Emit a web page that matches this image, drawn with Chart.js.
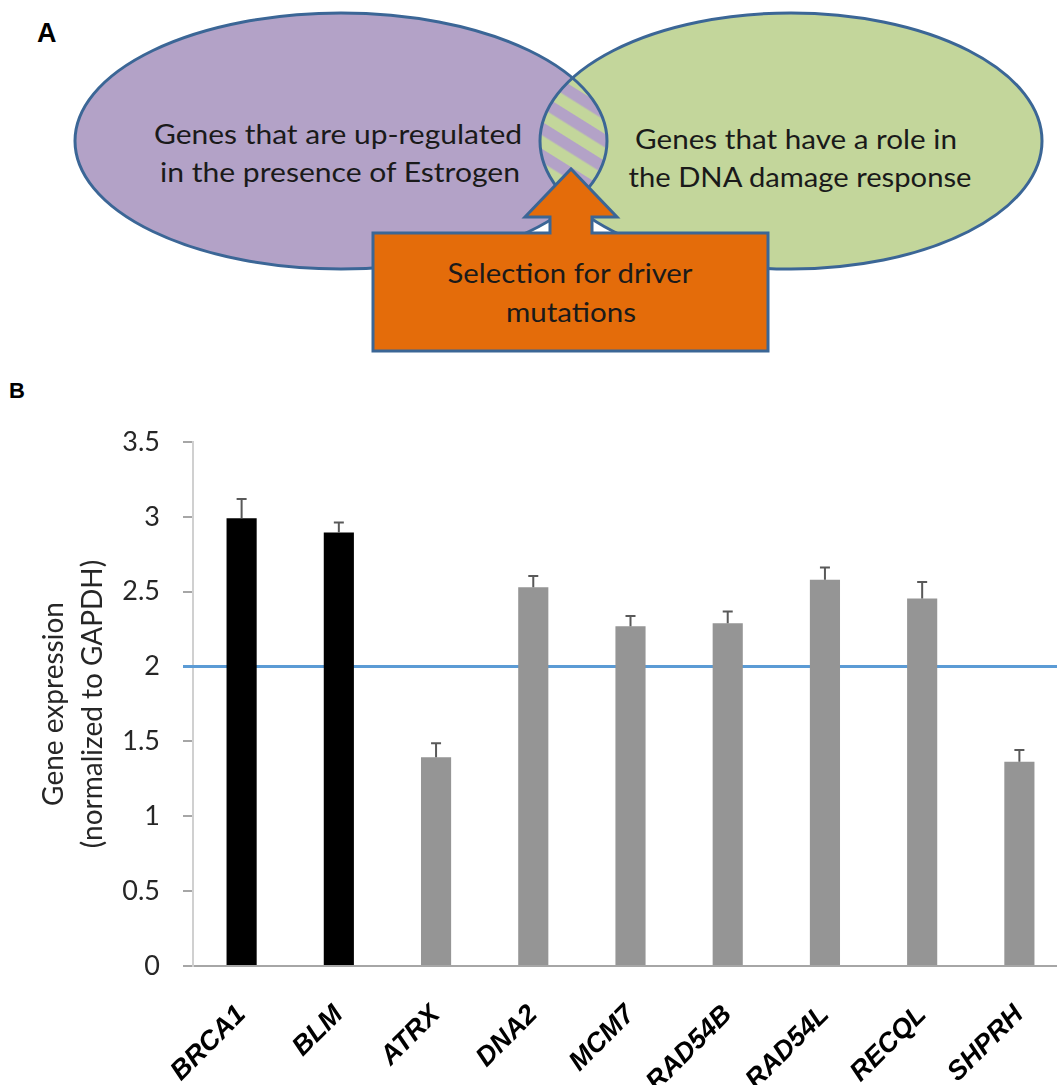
<!DOCTYPE html>
<html>
<head>
<meta charset="utf-8">
<title>Estrogen up-regulated DNA damage response genes</title>
<script src="https://cdn.jsdelivr.net/npm/chart.js@4.4.1/dist/chart.umd.min.js"></script>
<style>
  html, body { margin: 0; padding: 0; background: #fff; overflow: hidden; width: 1057px; height: 1085px; }
  #venn { position: absolute; left: 0; top: 0; }
  #chartBox { position: absolute; left: 0; top: 360px; width: 1076px; height: 725px; }
</style>
</head>
<body>
<svg id="venn" width="1057" height="400" xmlns="http://www.w3.org/2000/svg">
  <defs>
    <pattern id="stripes" patternUnits="userSpaceOnUse" width="23" height="23" patternTransform="rotate(32)">
      <rect width="23" height="23" fill="#c3d69b"/>
      <rect width="23" height="11.5" fill="#b3a2c7"/>
    </pattern>
    <clipPath id="leftClip"><ellipse cx="341" cy="141" rx="266" ry="128"/></clipPath>
  </defs>
  <text x="37" y="42" font-family="Liberation Sans, Arial, sans-serif" font-weight="bold" font-size="27" fill="#000">A</text>

  <ellipse cx="341" cy="141" rx="266" ry="128" fill="#b3a2c7"/>
  <ellipse cx="791" cy="141" rx="251" ry="128" fill="#c3d69b"/>
  <ellipse cx="791" cy="141" rx="251" ry="128" fill="url(#stripes)" clip-path="url(#leftClip)"/>
  <ellipse cx="341" cy="141" rx="266" ry="128" fill="none" stroke="#3b6696" stroke-width="3"/>
  <ellipse cx="791" cy="141" rx="251" ry="128" fill="none" stroke="#3b6696" stroke-width="3"/>

  <g font-family="Lato, sans-serif" font-size="27" fill="#1a1a1a" text-anchor="middle">
    <text x="338" y="144" textLength="368" lengthAdjust="spacingAndGlyphs">Genes that are up-regulated</text>
    <text x="340" y="182" textLength="360" lengthAdjust="spacingAndGlyphs">in the presence of Estrogen</text>
    <text x="796" y="149" textLength="322" lengthAdjust="spacingAndGlyphs">Genes that have a role in</text>
    <text x="800" y="187" textLength="343" lengthAdjust="spacingAndGlyphs">the DNA damage response</text>
  </g>

  <path d="M373,233 L550,233 L550,217 L525,217 L571,169 L617,217 L592,217 L592,233 L768,233 L768,351 L373,351 Z"
        fill="#e46c0a" stroke="#3b6696" stroke-width="3" stroke-linejoin="miter"/>
  <g font-family="Lato, sans-serif" font-size="27" fill="#1a1a1a" text-anchor="middle">
    <text x="570" y="283" textLength="245" lengthAdjust="spacingAndGlyphs">Selection for driver</text>
    <text x="571" y="322" textLength="130" lengthAdjust="spacingAndGlyphs">mutations</text>
  </g>

  <text x="9" y="398" font-family="Liberation Sans, Arial, sans-serif" font-weight="bold" font-size="22" fill="#000">B</text>
</svg>

<div id="chartBox">
  <canvas id="expressionChart" width="1076" height="725"></canvas>
</div>

<script>
// gene expression relative to GAPDH
const genes = ['BRCA1', 'BLM', 'ATRX', 'DNA2', 'MCM7', 'RAD54B', 'RAD54L', 'RECQL', 'SHPRH'];
const expression = [2.99, 2.895, 1.395, 2.53, 2.27, 2.29, 2.58, 2.455, 1.365];
const errorUp = [0.13, 0.067, 0.093, 0.075, 0.067, 0.078, 0.082, 0.11, 0.078];
const highlightedGenes = ['BRCA1', 'BLM'];
const thresholdValue = 2;
const yTickValues = [0, 0.5, 1, 1.5, 2, 2.5, 3, 3.5];
const yTitleLines = ['Gene expression', '(normalized to GAPDH)'];

// horizontal reference line at 2-fold, drawn under the bars
const thresholdLine = {
  id: 'thresholdLine',
  beforeDatasetsDraw(chart) {
    const { ctx, chartArea, scales: { y } } = chart;
    const yPos = y.getPixelForValue(thresholdValue);
    ctx.save();
    ctx.strokeStyle = '#5b9bd5';
    ctx.lineWidth = 3;
    ctx.beginPath();
    ctx.moveTo(chartArea.left - 10, yPos);
    ctx.lineTo(chartArea.right, yPos);
    ctx.stroke();
    ctx.restore();
  }
};

// one-sided (upper) error bars
const errorBars = {
  id: 'errorBars',
  afterDatasetsDraw(chart) {
    const { ctx, scales: { y } } = chart;
    const meta = chart.getDatasetMeta(0);
    ctx.save();
    ctx.strokeStyle = '#595959';
    ctx.lineWidth = 2;
    meta.data.forEach((bar, i) => {
      const top = y.getPixelForValue(expression[i] + errorUp[i]);
      ctx.beginPath();
      ctx.moveTo(bar.x, bar.y);
      ctx.lineTo(bar.x, top);
      ctx.moveTo(bar.x - 5, top);
      ctx.lineTo(bar.x + 5, top);
      ctx.stroke();
    });
    ctx.restore();
  }
};

function drawChart() {
  new Chart(document.getElementById('expressionChart'), {
    type: 'bar',
    data: {
      labels: genes,
      datasets: [{
        data: expression,
        backgroundColor: genes.map(g => highlightedGenes.includes(g) ? '#000000' : '#959595'),
        categoryPercentage: 1,
        barPercentage: 0.31,
      }],
    },
    options: {
      responsive: false,
      animation: false,
      layout: { padding: { top: 82, right: 8, left: 0, bottom: 0 } },
      plugins: {
        legend: { display: false },
        tooltip: { enabled: false },
      },
      scales: {
        x: {
          grid: { display: false, drawTicks: false },
          border: { color: '#a6a6a6', width: 2 },
          ticks: {
            autoSkip: false,
            maxRotation: 45,
            minRotation: 45,
            padding: 33,
            color: '#000',
            font: { family: '"Liberation Sans", Arial, sans-serif', size: 27, weight: 'bold', style: 'italic' },
          },
          afterFit: s => { s.height = 119; },
        },
        y: {
          min: 0,
          max: 3.5,
          afterBuildTicks: s => { s.ticks = yTickValues.map(v => ({ value: v })); },
          grid: { drawOnChartArea: false, tickLength: 10, color: '#a6a6a6', lineWidth: 2 },
          border: { color: '#d0d0d0', width: 2 },
          ticks: {
            padding: 23,
            color: '#262626',
            font: { family: 'Lato', size: 27 },
            callback: v => String(v),
          },
          title: {
            display: true,
            text: yTitleLines,
            color: '#262626',
            font: { family: 'Lato', size: 28, lineHeight: 1.4 },
            padding: { top: 34, bottom: 0 },
          },
          afterFit: s => { s.width = 193; },
        },
      },
    },
    plugins: [thresholdLine, errorBars],
  });
}

document.fonts.load('27px Lato').then(drawChart, drawChart);
</script>
</body>
</html>
